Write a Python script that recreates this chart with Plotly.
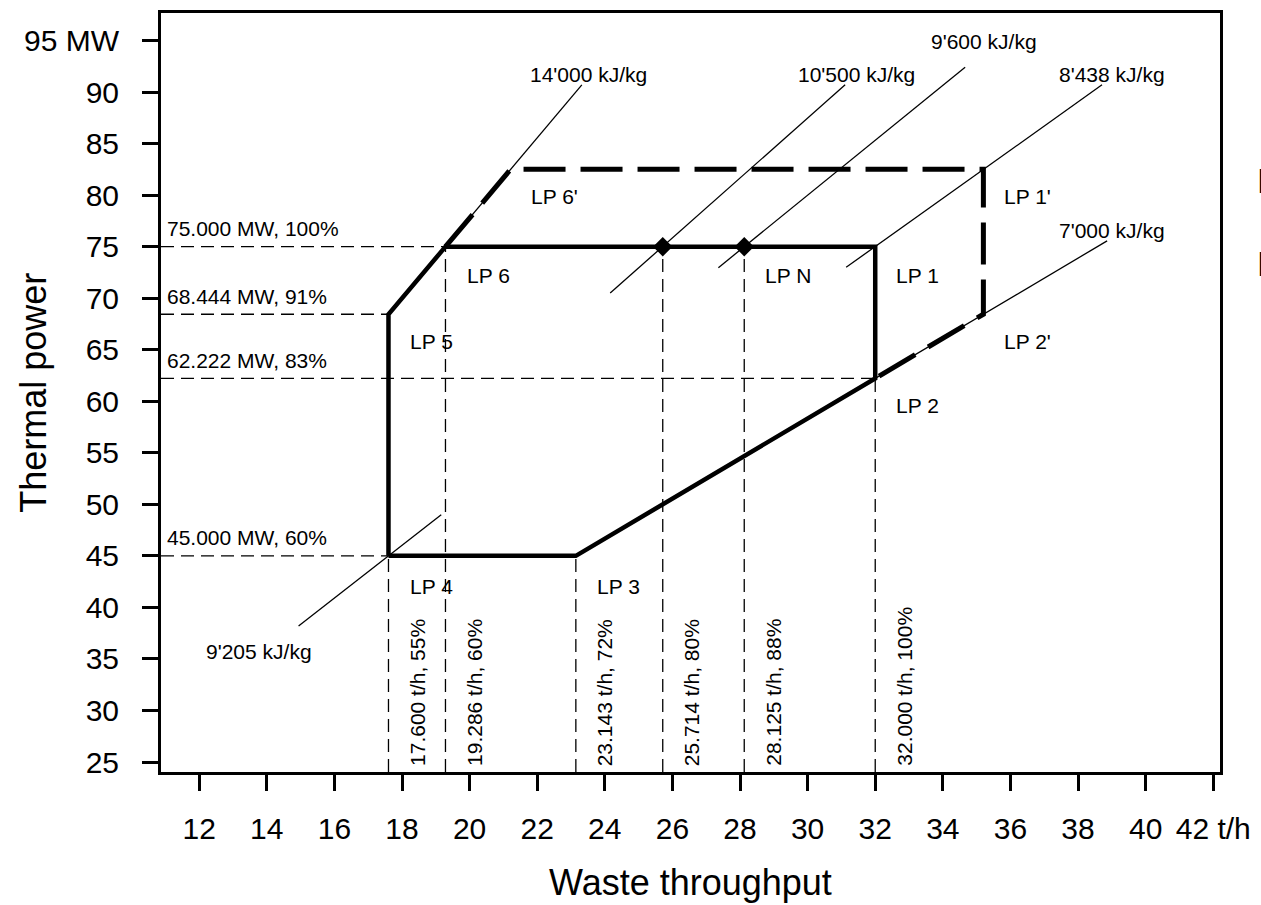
import plotly.graph_objects as go

FONT = "Liberation Sans, Arial, sans-serif"

# ---------------- data ----------------
# load points LP 1 .. LP 6 : waste throughput [t/h], thermal power [MW]
lp_throughput = [32.0, 32.0, 23.143, 17.6, 17.6, 19.286]
lp_power = [75.0, 62.222, 45.0, 45.0, 68.444, 75.0]
boundary_order = [3, 4, 5, 0, 1, 2, 3]          # LP4-LP5-LP6-LP1-LP2-LP3-LP4

# extended (overload) boundary: LP6, LP6', LP1', LP2', LP2
ext_throughput = [19.286, 21.214, 35.2, 35.2, 32.0]
ext_power = [75.0, 82.5, 82.5, 68.444, 62.222]

# nominal points (diamonds)
nominal_throughput = [25.714, 28.125]
nominal_power = [75.0, 75.0]

# calorific value lines (start / end points)
cal_labels = ["14'000 kJ/kg", "10'500 kJ/kg", "9'600 kJ/kg",
              "8'438 kJ/kg", "7'000 kJ/kg", "9'205 kJ/kg"]
cal_x0 = [17.6, 24.16, 27.36, 31.14, 32.0, 14.94]
cal_y0 = [68.444, 70.5, 72.96, 73.0, 62.222, 38.2]
cal_x1 = [23.32, 31.11, 34.66, 38.71, 38.86, 19.16]
cal_y1 = [90.7, 90.7, 92.4, 90.7, 75.56, 49.0]
cal_label_x = [23.51, 31.44, 35.22, 39.01, 39.01, 13.78]
cal_label_y = [91.67, 91.67, 94.9, 91.67, 76.6, 35.7]

# load point labels
lp_label_text = ["LP 1", "LP 2", "LP 3", "LP 4", "LP 5", "LP 6",
                 "LP N", "LP 1'", "LP 2'", "LP 6'"]
lp_label_x = [32.56, 32.56, 23.72, 18.17, 18.17, 19.85, 28.69, 35.75, 35.75, 21.77]
lp_label_y = [72.25, 59.63, 42.02, 42.02, 65.78, 72.25, 72.25, 79.85, 65.78, 79.85]

# horizontal reference lines
h_power = [75.0, 68.444, 62.222, 45.0]
h_end = [19.286, 17.6, 32.0, 17.6]
h_labels = ["75.000 MW, 100%", "68.444 MW, 91%", "62.222 MW, 83%", "45.000 MW, 60%"]

# vertical reference lines
v_throughput = [17.6, 19.286, 23.143, 25.714, 28.125, 32.0]
v_top = [45.0, 75.0, 45.0, 75.0, 75.0, 62.222]
v_labels = ["17.600 t/h, 55%", "19.286 t/h, 60%", "23.143 t/h, 72%",
            "25.714 t/h, 80%", "28.125 t/h, 88%", "32.000 t/h, 100%"]

# axis ticks
x_ticks = [12, 14, 16, 18, 20, 22, 24, 26, 28, 30, 32, 34, 36, 38, 40, 42]
x_ticktext = ["12", "14", "16", "18", "20", "22", "24", "26", "28", "30",
              "32", "34", "36", "38", "40", "42 t/h"]
y_ticks = [25, 30, 35, 40, 45, 50, 55, 60, 65, 70, 75, 80, 85, 90, 95]
y_ticktext = ["25", "30", "35", "40", "45", "50", "55", "60", "65", "70",
              "75", "80", "85", "90", "95 MW"]

x_range = [10.87, 42.2]
y_range = [24.03, 97.67]

# ---------------- figure ----------------
fig = go.Figure()
thin_dash = dict(color="black", width=1.3, dash="13px,7px")

for h, xe in zip(h_power, h_end):
    fig.add_trace(go.Scatter(x=[x_range[0], xe], y=[h, h], mode="lines",
                             line=thin_dash, hoverinfo="skip", showlegend=False))
for xv, yt in zip(v_throughput, v_top):
    fig.add_trace(go.Scatter(x=[xv, xv], y=[y_range[0], yt], mode="lines",
                             line=thin_dash, hoverinfo="skip", showlegend=False))

for x0, y0, x1, y1 in zip(cal_x0, cal_y0, cal_x1, cal_y1):
    fig.add_trace(go.Scatter(x=[x0, x1], y=[y0, y1], mode="lines",
                             line=dict(color="black", width=1.3),
                             hoverinfo="skip", showlegend=False))

fig.add_trace(go.Scatter(x=[lp_throughput[i] for i in boundary_order],
                         y=[lp_power[i] for i in boundary_order],
                         mode="lines", line=dict(color="black", width=4.5),
                         showlegend=False))
fig.add_trace(go.Scatter(x=ext_throughput, y=ext_power, mode="lines",
                         line=dict(color="black", width=5, dash="42px,15px"),
                         showlegend=False))
fig.add_trace(go.Scatter(x=nominal_throughput, y=nominal_power, mode="markers",
                         marker=dict(symbol="diamond", size=15, color="black"),
                         showlegend=False))

ann = []
small = dict(family=FONT, size=21, color="black")
for t, x, y in zip(cal_labels, cal_label_x, cal_label_y):
    ann.append(dict(x=x, y=y, text=t, showarrow=False, font=small,
                    xanchor="center", yanchor="middle"))
for t, x, y in zip(lp_label_text, lp_label_x, lp_label_y):
    ann.append(dict(x=x, y=y, text=t, showarrow=False, font=small,
                    xanchor="left", yanchor="middle"))
for t, h in zip(h_labels, h_power):
    ann.append(dict(x=x_range[0], y=h, text=t, showarrow=False, font=small,
                    xanchor="left", yanchor="middle", xshift=4, yshift=18))
for t, xv in zip(v_labels, v_throughput):
    ann.append(dict(x=xv, y=y_range[0], text=t, showarrow=False, font=small,
                    textangle=-90, xanchor="center", yanchor="bottom",
                    xshift=29, yshift=4))
# axis titles
ann.append(dict(x=0.5, y=-0.145, xref="paper", yref="paper", text="Waste throughput",
                showarrow=False, font=dict(family=FONT, size=36, color="black"),
                xanchor="center", yanchor="middle"))
ann.append(dict(x=-0.1206, y=0.5, xref="paper", yref="paper", text="Thermal power",
                showarrow=False, textangle=-90,
                font=dict(family=FONT, size=36, color="black"),
                xanchor="center", yanchor="middle"))
# text cut off at the right edge of the picture
for yp in [0.779, 0.670]:
    ann.append(dict(x=1.0334, y=yp, xref="paper", yref="paper", text="L",
                    showarrow=False, font=dict(family=FONT, size=35, color="black"),
                    xanchor="left", yanchor="middle"))

fig.update_layout(
    width=1261, height=905,
    margin=dict(l=161, r=41, t=13, b=133, autoexpand=False),
    paper_bgcolor="white", plot_bgcolor="white",
    font=dict(family=FONT, color="black"),
    annotations=ann,
    showlegend=False,
)
axis_common = dict(showline=True, linecolor="black", linewidth=3, mirror=True,
                   ticks="outside", ticklen=16, tickwidth=3, tickcolor="black",
                   showgrid=False, zeroline=False,
                   tickfont=dict(family=FONT, size=30, color="black"))
fig.update_xaxes(range=x_range, tickvals=x_ticks, ticktext=x_ticktext,
                 ticklabelstandoff=12, **axis_common)
fig.update_yaxes(range=y_range, tickvals=y_ticks, ticktext=y_ticktext,
                 ticklabelstandoff=17, **axis_common)

fig.write_html("out.html", config={"displayModeBar": False},
               post_script="document.body.style.margin='0';document.body.style.overflow='hidden';")
